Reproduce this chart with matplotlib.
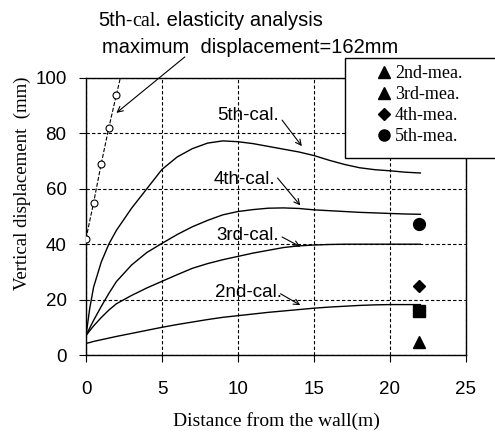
import numpy as np
import matplotlib
matplotlib.use('Agg')
import matplotlib.pyplot as plt
from matplotlib.lines import Line2D
from matplotlib.patches import Rectangle

SANS = 'Liberation Sans'
SERIF = 'Liberation Serif'

# calculated curves (distance from wall in m, vertical displacement in mm)
x_cal = [0, 0.25, 0.5, 1, 1.5, 2, 3, 4, 5, 6, 7, 8, 9, 10, 11, 12, 13, 14, 15, 16, 17, 18, 19, 20, 21, 22]
y_2nd_cal = [4.2, 4.5, 4.9, 5.5, 6.1, 6.7, 7.8, 8.9, 10.0, 11.0, 11.9, 12.8, 13.6, 14.2, 14.8, 15.4, 15.9, 16.4, 16.9, 17.3, 17.6, 17.9, 18.1, 18.2, 18.2, 18.2]
y_3rd_cal = [7.0, 8.8, 10.5, 13.5, 16.2, 18.5, 21.5, 24.2, 26.6, 29.0, 31.3, 33.0, 34.4, 35.6, 36.8, 37.8, 38.8, 39.4, 39.7, 39.9, 40.0, 40.0, 40.0, 40.0, 40.0, 40.0]
y_4th_cal = [7.0, 9.8, 12.5, 17.5, 22.2, 26.5, 32.5, 37.0, 40.3, 43.5, 46.3, 48.6, 50.6, 51.8, 52.5, 53.0, 53.1, 52.9, 52.4, 52.1, 51.8, 51.5, 51.3, 51.1, 50.9, 50.8]
y_5th_cal = [7.0, 17.0, 24.5, 33.5, 40.0, 45.0, 53.0, 60.0, 67.0, 71.5, 74.5, 76.5, 77.3, 77.0, 76.3, 75.3, 74.3, 73.3, 72.0, 70.3, 68.8, 67.6, 66.9, 66.5, 66.0, 65.7]

# elasticity analysis (5th)
x_elastic = [0, 0.5, 1.0, 1.5, 2.0, 2.3]
y_elastic = [42, 55, 69, 82, 94, 101]

# measurements
x_mea = 21.9
y_2nd_mea = 4.7
y_3rd_mea = 15.9
y_4th_mea = 24.9
y_5th_mea = 47.3

fig = plt.figure(figsize=(4.95, 4.32), dpi=100)
ax = fig.add_axes([86/495, 1-355/432, 380/495, 277/432])

lw = 1.0
for yc in [y_2nd_cal, y_3rd_cal, y_4th_cal, y_5th_cal]:
    ax.plot(x_cal, yc, '-', color='black', lw=lw, zorder=3)

ax.plot(x_elastic, y_elastic, '--', color='black', lw=0.8, marker='o', markersize=5,
        markerfacecolor='white', markeredgewidth=0.8, markevery=[0, 1, 2, 3, 4], zorder=3)

ax.plot(x_mea, y_2nd_mea, '^', color='black', markersize=9, zorder=4)
ax.plot(x_mea, y_3rd_mea, 's', color='black', markersize=8.5, zorder=4)
ax.plot(x_mea, y_4th_mea, 'D', color='black', markersize=6.5, zorder=4)
ax.plot(x_mea, y_5th_mea, 'o', color='black', markersize=8.5, zorder=4)

ax.set_xlim(0, 25)
ax.set_ylim(0, 100)
ax.set_xticks([0, 5, 10, 15, 20, 25])
ax.set_yticks([0, 20, 40, 60, 80, 100])
ax.grid(True, linestyle=(0, (3, 2)), color='black', lw=0.8)
for s in ax.spines.values():
    s.set_linewidth(1.0)
ax.tick_params(direction='out', length=5, width=0.8, labelsize=13.5)
ax.tick_params(axis='x', pad=14)
ax.tick_params(axis='y', pad=9)
for lab in ax.get_xticklabels() + ax.get_yticklabels():
    lab.set_family(SANS)

ax.set_xlabel('Distance from the wall(m)', family=SERIF, fontsize=14, labelpad=10)
ax.set_ylabel('Vertical displacement  (mm)', family=SERIF, fontsize=13.5)
ax.yaxis.set_label_coords(-0.145, 0.62)

# curve labels with arrows
arrow = dict(arrowstyle='->', color='black', lw=0.8, shrinkA=0, shrinkB=0)
labels = [
    ('5th-cal.', 8.6, 86.6, (12.9, 84.8), (14.2, 75.4)),
    ('4th-cal.', 8.4, 63.2, (12.6, 63.9), (14.1, 54.0)),
    ('3rd-cal.', 8.6, 43.3, (12.9, 42.6), (14.1, 39.1)),
    ('2nd-cal.', 8.5, 22.4, (12.8, 22.1), (14.1, 18.0)),
]
for txt, tx, ty, a0, a1 in labels:
    ax.text(tx, ty, txt, family=SANS, fontsize=13.5, ha='left', va='center', zorder=5)
    ax.annotate('', xy=a1, xytext=a0, arrowprops=arrow, zorder=5)

# elasticity annotation, first line in mixed fonts on one baseline
fig.canvas.draw()
renderer = fig.canvas.get_renderer()
x_px, base_px = 98, 26
for piece, fam in [('5th-', SANS), ('cal.', SERIF), (' elasticity analysis', SANS)]:
    t = fig.text(x_px/495, 1-base_px/432, piece, family=fam, fontsize=14.5, ha='left', va='baseline')
    x_px += t.get_window_extent(renderer).width
fig.text(102/495, 1-53/432, 'maximum  displacement=162mm', family=SANS, fontsize=14.5,
         ha='left', va='baseline')
ax.annotate('', xy=(2.0, 87.4), xytext=(6.5, 107.6), arrowprops=arrow, annotation_clip=False)

# legend box (clipped by figure edge)
box = Rectangle((345/495, 1-158/432), 0.35, 100/432, transform=fig.transFigure,
                facecolor='white', edgecolor='black', lw=1.0, zorder=5)
fig.patches.append(box)
handles = [
    Line2D([], [], ls='none', marker='^', color='black', markersize=8),
    Line2D([], [], ls='none', marker='^', color='black', markersize=8),
    Line2D([], [], ls='none', marker='D', color='black', markersize=6),
    Line2D([], [], ls='none', marker='o', color='black', markersize=8),
]
leg = fig.legend(handles, ['2nd-mea.', '3rd-mea.', '4th-mea.', '5th-mea.'],
                 loc='upper left', bbox_to_anchor=(377/495, 1-65/432), frameon=False,
                 prop={'family': SERIF, 'size': 13}, handlelength=0.8, handletextpad=0.2,
                 labelspacing=0.22, borderpad=0, borderaxespad=0)
leg.set_zorder(6)

fig.savefig('out.png', dpi=100)
